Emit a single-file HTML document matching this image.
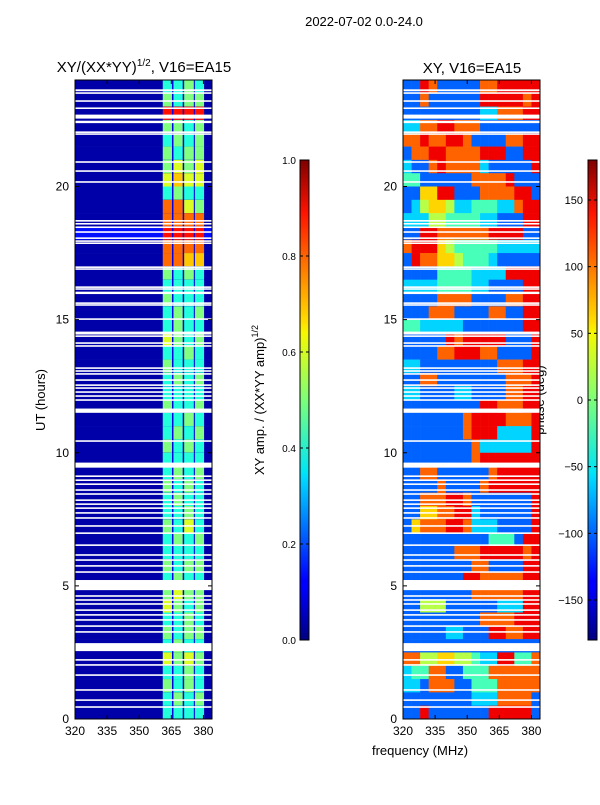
<!DOCTYPE html>
<html><head><meta charset="utf-8"><style>
body{margin:0;background:#fff;font-family:"Liberation Sans",sans-serif}
svg text{font-family:"Liberation Sans",sans-serif;fill:#000}
</style></head><body>
<svg id="fig" width="600" height="800" xmlns="http://www.w3.org/2000/svg">
<text x="364" y="26" font-size="13" text-anchor="middle">2022-07-02 0.0-24.0</text>
<text x="144" y="72" font-size="15" text-anchor="middle">XY/(XX*YY)<tspan font-size="10" dy="-6">1/2</tspan><tspan dy="6">, V16=EA15</tspan></text>
<text x="472" y="73" font-size="15" text-anchor="middle">XY, V16=EA15</text>
<text transform="translate(45,400) rotate(-90)" font-size="13" text-anchor="middle">UT (hours)</text>
<text x="420" y="755" font-size="13" text-anchor="middle">frequency (MHz)</text>
<text transform="translate(264,400) rotate(-90)" font-size="13" text-anchor="middle">XY amp. / (XX*YY amp)<tspan font-size="9" dy="-6">1/2</tspan></text>
<text transform="translate(544,400) rotate(-90)" font-size="13" text-anchor="middle">phase (deg)</text>
<g id="amp"></g>
<g id="phs"></g>
<g id="axes"></g>
<defs><linearGradient id="jet" x1="0" y1="1" x2="0" y2="0">
<stop offset="0" stop-color="#00007f"/><stop offset="0.11" stop-color="#0000ff"/><stop offset="0.125" stop-color="#0000ff"/><stop offset="0.34" stop-color="#00dcff"/><stop offset="0.35" stop-color="#00e5f6"/><stop offset="0.5" stop-color="#7cff79"/><stop offset="0.64" stop-color="#f6f900"/><stop offset="0.66" stop-color="#ffe000"/><stop offset="0.89" stop-color="#ff1300"/><stop offset="1" stop-color="#7f0000"/></linearGradient></defs>
</svg>
<script>
const NS="http://www.w3.org/2000/svg";
const freqRange=[320,384];
const timeRange=[0,24];
const xTicks=[320,335,350,365,380];
const yTicks=[0,5,10,15,20];
const ampTicks=[0.0,0.2,0.4,0.6,0.8,1.0];
const phaseTicks=[-150,-100,-50,0,50,100,150];
// half-hour rows, top (23.5-24h) to bottom (0-0.5h); 4 bright bands, digit = amp*10
const ampBands=[[361,365.3],[366,370.3],[371,375.5],[376,380.3]];
const ampBandVals=["4454","5455","9999","5545","4545","5455","5656","6766","4544","8865","8888","9999","8888","8877","5454","4444","5444","4545","4544","6545","4454","5444","4545","4444","5445","4454","4545","5454","4444","4545","5454","4544","4454","5464","4545","4444","5455","4544","5655","6545","4454","5455","4544","6565","4454","5454","4545","4444"];
const ampBackground=["0","0","0","0","0","0","0","0","0","0","0","1","0","0","0","0","0","0","0","0","0","0","0","0","0","0","0","0","0","0","0","0","0","0","0","0","0","0","0","0","0","0","0","0","0","0","0","0"];
// phase: 16 channels of 4 MHz, digit d -> -180 + d*40 deg
const phaseRows=["2287222227788888","2272222228888878","2222222223377788","3377887772222222","7787788722227788","2778877778882288","3227877773222228","4422222277778222","2266882227777882","2356653344433788","3335544443322288","2288777777888822","7888654444433333","2877665444322222","2222444433338888","3333444433222288","2222777722227788","2227772222772288","4433333222222288","2222287888882228","2222778887722228","3322222222277788","2277222222227778","3322223322227788","2222222228877788","2222222788887778","2222222788833338","2222222273333338","2222222278888888","2277222222788888","2222722227888888","2277788722222228","2266778832222228","2677788733322228","2222222222444288","2222227778888878","2222222277222288","2222222887777788","2222222277777788","2255522222233388","2222222227777888","2222233222887788","2222222222222222","7755665543388447","3447722444777777","3327772244477777","2222222233377772","2282222222888882"];
// flagged (blank) time ranges in hours
const flags=[[23.58,23.65],[23.48,23.54],[23.18,23.24],[22.91,22.97],[22.55,22.70],[22.38,22.47],[22.01,22.07],[21.94,22.0],[20.89,20.95],[20.55,20.61],[20.14,20.2],[18.68,18.74],[18.57,18.63],[18.44,18.5],[18.26,18.32],[18.03,18.09],[17.92,17.98],[17.84,17.9],[16.94,17.0],[16.87,16.93],[16.19,16.25],[16.12,16.18],[15.96,16.05],[15.59,15.65],[15.52,15.58],[14.99,15.05],[14.44,14.55],[14.35,14.41],[14.09,14.15],[13.98,14.04],[13.15,13.21],[13.04,13.1],[12.93,12.99],[12.7,12.76],[12.51,12.57],[12.4,12.46],[12.25,12.31],[12.1,12.16],[11.95,12.01],[11.5,11.66],[10.41,10.47],[9.44,9.63],[9.09,9.15],[8.94,9.0],[8.79,8.85],[8.57,8.63],[8.42,8.48],[8.19,8.25],[8.04,8.1],[7.89,7.95],[7.71,7.77],[7.52,7.58],[7.22,7.28],[6.95,7.01],[6.5,6.56],[6.13,6.19],[5.94,6.0],[5.72,5.78],[5.49,5.55],[4.84,5.22],[4.59,4.65],[4.44,4.5],[4.29,4.35],[4.06,4.12],[3.88,3.94],[3.69,3.75],[3.46,3.52],[3.24,3.3],[2.55,2.85],[2.19,2.25],[2.0,2.06],[1.62,1.68],[1.06,1.12],[0.68,0.74],[0.42,0.48]];

function jet(v){v=Math.max(0,Math.min(1,v));
 const r=Math.min(4*v-1.5,-4*v+4.5),g=Math.min(4*v-0.5,-4*v+3.5),b=Math.min(4*v+0.5,-4*v+2.5);
 const c=t=>Math.round(255*Math.max(0,Math.min(1,t)));return`rgb(${c(r)},${c(g)},${c(b)})`;}
const panels={amp:{x0:75,x1:212},phs:{x0:403,x1:540}};
const yTop=80,yBot=719;
function sx(p,f){const P=panels[p];return P.x0+(f-freqRange[0])/(freqRange[1]-freqRange[0])*(P.x1-P.x0);}
function sy(h){return yBot-(h-timeRange[0])/(timeRange[1]-timeRange[0])*(yBot-yTop);}
function rect(g,x,y,w,h,fill,name){const r=document.createElementNS(NS,'rect');
 r.setAttribute('x',x);r.setAttribute('y',y);r.setAttribute('width',w);r.setAttribute('height',h);r.setAttribute('fill',fill);
 
 
 g.appendChild(r);return r;}
function text(g,x,y,s,anchor,name){const t=document.createElementNS(NS,'text');
 t.setAttribute('x',x);t.setAttribute('y',y);t.setAttribute('font-size','12');t.setAttribute('text-anchor',anchor);t.textContent=s;
 
 
 g.appendChild(t);}
function line(g,x1,y1,x2,y2,name){const l=document.createElementNS(NS,'line');
 l.setAttribute('x1',x1);l.setAttribute('y1',y1);l.setAttribute('x2',x2);l.setAttribute('y2',y2);l.setAttribute('stroke','#000');
 
 
 g.appendChild(l);}

const A=document.getElementById('amp'),Pg=document.getElementById('phs'),AX=document.getElementById('axes');
const nRows=ampBandVals.length,dh=(timeRange[1]-timeRange[0])/nRows;
for(let i=0;i<nRows;i++){
 const hTop=timeRange[1]-i*dh,y=sy(hTop),hh=sy(hTop-dh)-y+0.3;
 const bg=+ampBackground[i]/10;
 rect(A,sx('amp',freqRange[0]),y,sx('amp',freqRange[1])-sx('amp',freqRange[0]),hh,jet(bg+0.04),'amp-row-bg');
 rect(A,sx('amp',ampBands[0][0]),y,sx('amp',ampBands[3][1])-sx('amp',ampBands[0][0]),hh,jet(0.1),'amp-band-gap');
 ampBands.forEach((b,k)=>{const v=+ampBandVals[i][k]/10;
  rect(A,sx('amp',b[0]),y,sx('amp',b[1])-sx('amp',b[0]),hh,jet(v*0.9+0.05),'amp-cell');});
 const row=phaseRows[i],nc=row.length,df=(freqRange[1]-freqRange[0])/nc;
 for(let j=0;j<nc;j++){const f=freqRange[0]+j*df;
  const ph=-180+(+row[j])*40;
  rect(Pg,sx('phs',f),y,sx('phs',f+df)-sx('phs',f)+0.3,hh,jet((ph+180)/360),'phase-cell');}
}
flags.forEach(fl=>{['amp','phs'].forEach(p=>{const g=p=='amp'?A:Pg;
 rect(g,panels[p].x0,sy(fl[1]),panels[p].x1-panels[p].x0,Math.max(1.5,sy(fl[0])-sy(fl[1])),'#fff','flagged-interval');});});

['amp','phs'].forEach(p=>{const P=panels[p];
 const fr=rect(AX,P.x0,yTop,P.x1-P.x0,yBot-yTop,'none',p+'-axes-frame');fr.setAttribute('stroke','#000');
 xTicks.forEach(t=>{const x=sx(p,t);line(AX,x,yBot,x,yBot-4,'x-tick');line(AX,x,yTop,x,yTop+4,'x-tick');
  text(AX,x,yBot+16,String(t),'middle','x-tick-label');});
 yTicks.forEach(t=>{const y=sy(t);line(AX,P.x0,y,P.x0+4,y,'y-tick');line(AX,P.x1,y,P.x1-4,y,'y-tick');
  text(AX,P.x0-6,y+4,String(t),'end','y-tick-label');});
});
// colorbars
const cbTop=160,cbBot=640;
[[300,ampTicks,0,1,'amp'],[588,phaseTicks,-180,180,'phase']].forEach(([x,ticks,lo,hi,nm])=>{
 const r=rect(AX,x,cbTop,9,cbBot-cbTop,'url(#jet)',nm+'-colorbar');r.setAttribute('stroke','#000');
 ticks.forEach(t=>{const y=cbBot-(t-lo)/(hi-lo)*(cbBot-cbTop);line(AX,x,y,x+3,y,'colorbar-tick');line(AX,x+9,y,x+6,y,'colorbar-tick');
  const lab=nm=='amp'?t.toFixed(1):(t<0?'\u2212'+(-t):String(t));
  const tx=document.createElementNS(NS,'text');
  tx.setAttribute('x',nm=='amp'?x-4:x-5);tx.setAttribute('y',y+4);
  tx.setAttribute('font-size',nm=='amp'?'10':'11');tx.setAttribute('text-anchor','end');tx.textContent=lab;
  
  
  AX.appendChild(tx);});
});
</script>
</body></html>
